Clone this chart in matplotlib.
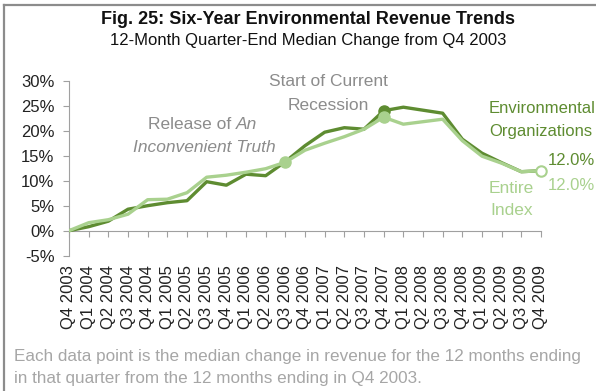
import matplotlib.pyplot as plt
from matplotlib.lines import Line2D

plt.rcParams["font.family"] = ["Liberation Sans", "DejaVu Sans"]

QUARTERS = [
    "Q4 2003", "Q1 2004", "Q2 2004", "Q3 2004", "Q4 2004", "Q1 2005", "Q2 2005",
    "Q3 2005", "Q4 2005", "Q1 2006", "Q2 2006", "Q3 2006", "Q4 2006", "Q1 2007",
    "Q2 2007", "Q3 2007", "Q4 2007", "Q1 2008", "Q2 2008", "Q3 2008", "Q4 2008",
    "Q1 2009", "Q2 2009", "Q3 2009", "Q4 2009",
]
# median 12-month revenue change vs Q4 2003, in %
ENVIRONMENTAL = [0.0, 0.8, 1.9, 4.3, 5.0, 5.6, 6.0, 9.8, 9.1, 11.3, 11.0, 13.8,
                 17.0, 19.7, 20.6, 20.3, 24.0, 24.7, 24.1, 23.5, 18.3, 15.5,
                 13.6, 11.8, 12.0]
ENTIRE_INDEX = [0.0, 1.6, 2.2, 3.3, 6.2, 6.3, 7.6, 10.7, 11.1, 11.7, 12.4, 13.7,
                16.1, 17.5, 18.8, 20.3, 22.7, 21.3, 21.8, 22.3, 18.0, 14.9,
                13.5, 11.8, 12.0]
Y_TICKS = [-5, 0, 5, 10, 15, 20, 25, 30]

DARK = "#5E8C31"
LIGHT = "#A9D18E"
GRAY = "#8C8C8C"

fig = plt.figure(figsize=(5.96, 3.91), dpi=100)
ax = fig.add_axes([69 / 596, 1 - 255.7 / 391, (541 - 69) / 596, (255.7 - 80.7) / 391])

x = list(range(len(QUARTERS)))
ax.plot(x, ENVIRONMENTAL, color=DARK, lw=2.4, zorder=3)
ax.plot(x, ENTIRE_INDEX, color=LIGHT, lw=2.4, zorder=4)

# event markers
i_film = QUARTERS.index("Q3 2006")
i_rec = QUARTERS.index("Q4 2007")
ax.plot(i_film, ENTIRE_INDEX[i_film], "o", ms=8, color=LIGHT, zorder=6)
ax.plot(i_rec, ENVIRONMENTAL[i_rec], "o", ms=8, color=DARK, zorder=5)
ax.plot(i_rec, ENTIRE_INDEX[i_rec], "o", ms=8, color=LIGHT, zorder=6)
ax.plot(x[-1], ENTIRE_INDEX[-1], "o", ms=7.5, mfc="white", mec=LIGHT, mew=1.5,
        zorder=7, clip_on=False)

# axis frame: x axis sits on the 0% line
for side in ("top", "right"):
    ax.spines[side].set_visible(False)
ax.spines["bottom"].set_position(("data", 0))
ax.spines["left"].set_color("#A0A0A0")
ax.spines["bottom"].set_color("#A0A0A0")

ax.set_xlim(0, len(QUARTERS) - 1)
ax.set_ylim(-5, 30)
ax.set_yticks(Y_TICKS)
ax.set_yticklabels([f"{v}%" for v in Y_TICKS], fontsize=12, color="#222222")
ax.set_xticks(x)
ax.set_xticklabels(QUARTERS, rotation=90, fontsize=12, color="#222222")
ax.tick_params(axis="y", length=4.5, color="#A0A0A0", pad=6)
ax.tick_params(axis="x", length=4.5, color="#A0A0A0", pad=20)

# annotations
ax.text(8.5, 21.2, "Release of ", color=GRAY, fontsize=12.5, ha="right", va="center")
ax.text(8.5, 21.2, "An", color=GRAY, fontsize=12.5, style="italic", ha="left", va="center")
ax.text(6.9, 16.6, "Inconvenient Truth", color=GRAY, fontsize=12.5, style="italic",
        ha="center", va="center")
ax.text(13.2, 29.8, "Start of Current", color=GRAY, fontsize=12.5, ha="center", va="center")
ax.text(13.2, 25.0, "Recession", color=GRAY, fontsize=12.5, ha="center", va="center")
ax.text(21.35, 24.4, "Environmental", color=DARK, fontsize=12, ha="left", va="center")
ax.text(21.35, 19.8, "Organizations", color=DARK, fontsize=12, ha="left", va="center")
ax.text(24.35, 14.0, f"{ENVIRONMENTAL[-1]:.1f}%", color=DARK, fontsize=12,
        ha="left", va="center")
ax.text(24.35, 9.0, f"{ENTIRE_INDEX[-1]:.1f}%", color=LIGHT, fontsize=12,
        ha="left", va="center")
ax.text(22.5, 8.4, "Entire", color=LIGHT, fontsize=12.5, ha="center", va="center")
ax.text(22.5, 4.0, "Index", color=LIGHT, fontsize=12.5, ha="center", va="center")

for t in ax.texts:
    t.set_clip_on(False)

fig.text(308 / 596, 1 - 20 / 391, "Fig. 25: Six-Year Environmental Revenue Trends",
         fontsize=13, fontweight="bold", ha="center", va="center", color="#111111")
fig.text(308 / 596, 1 - 41 / 391, "12-Month Quarter-End Median Change from Q4 2003",
         fontsize=12, ha="center", va="center", color="#111111")
fig.text(14 / 596, 1 - 357 / 391,
         "Each data point is the median change in revenue for the 12 months ending",
         fontsize=12.3, color="#A6A6A6", ha="left", va="center")
fig.text(14 / 596, 1 - 379 / 391,
         "in that quarter from the 12 months ending in Q4 2003.",
         fontsize=12.3, color="#A6A6A6", ha="left", va="center")

# outer frame (left and top edges)
fig.add_artist(Line2D([4 / 596, 4 / 596], [0, 1 - 5 / 391], color="#8C8C8C", lw=1.6,
                      transform=fig.transFigure))
fig.add_artist(Line2D([4 / 596, 1], [1 - 5 / 391, 1 - 5 / 391], color="#8C8C8C", lw=1.6,
                      transform=fig.transFigure))

fig.savefig("out.png", dpi=100, facecolor="white")
